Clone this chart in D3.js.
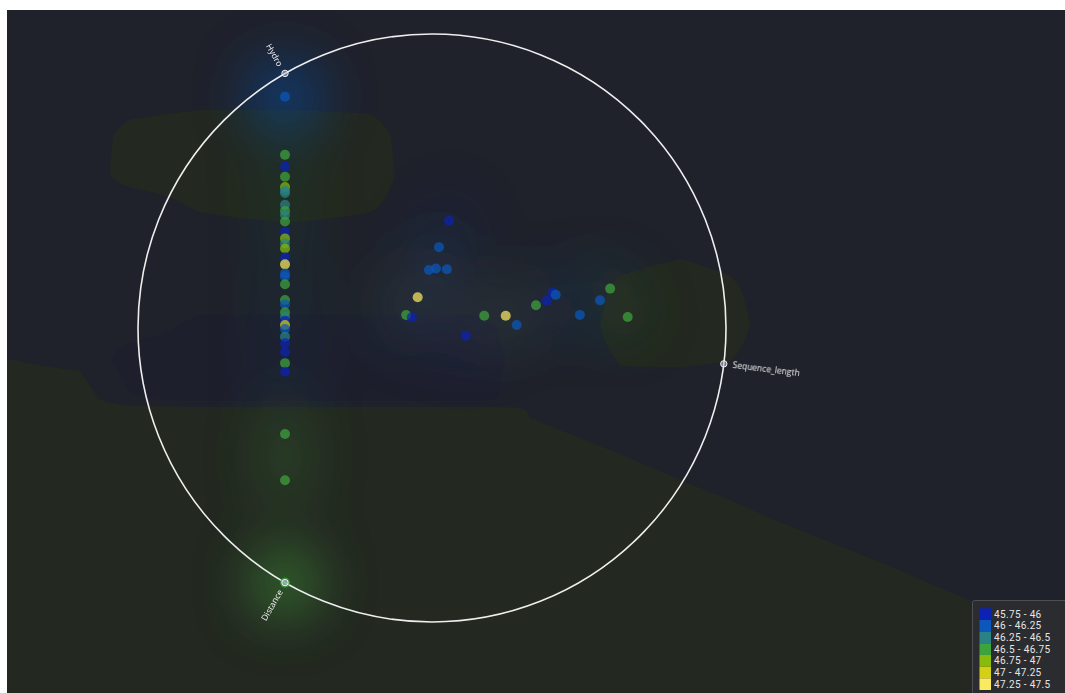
<!DOCTYPE html>
<html>
<head>
<meta charset="utf-8">
<script src="https://cdn.jsdelivr.net/npm/d3@7"></script>
<style>
  html, body { margin: 0; padding: 0; background: #ffffff; overflow: hidden; }
  svg { display: block; }
</style>
</head>
<body>
<svg id="chart" width="1065" height="693"></svg>
<script>
// RadViz anchors (feature names and their angle on the circle, degrees clockwise from +x)
const anchorNames = ["Hydro", "Sequence_length", "Distance"];
const anchorAngles = [240, 7, 120];

// Normalised feature values per sample
const hydro = [
  0.954, 0.840, 0.817, 0.797, 0.777, 0.770, 0.765, 0.742, 0.730, 0.722, 0.709, 0.689,
  0.676, 0.666, 0.656, 0.639, 0.625, 0.607, 0.601, 0.586, 0.555, 0.546, 0.531, 0.522,
  0.514, 0.506, 0.498, 0.483, 0.470, 0.453, 0.431, 0.414, 0.292, 0.201, 0.000,
  0.550, 0.508, 0.473, 0.469, 0.457, 0.430, 0.407, 0.397, 0.329, 0.308, 0.279, 0.308,
  0.299, 0.297, 0.307, 0.300, 0.237, 0.246, 0.259, 0.186
];
const seqLength = [
  0, 0, 0, 0, 0, 0, 0, 0, 0, 0, 0, 0,
  0, 0, 0, 0, 0, 0, 0, 0, 0, 0, 0, 0,
  0, 0, 0, 0, 0, 0, 0, 0, 0, 0, 0,
  0.374, 0.351, 0.328, 0.344, 0.369, 0.302, 0.276, 0.289, 0.454, 0.503, 0.528, 0.412,
  0.572, 0.596, 0.610, 0.617, 0.672, 0.718, 0.741, 0.781
];
const distance = [
  0.046, 0.160, 0.183, 0.203, 0.223, 0.230, 0.235, 0.258, 0.270, 0.278, 0.291, 0.311,
  0.324, 0.334, 0.344, 0.361, 0.375, 0.393, 0.399, 0.414, 0.445, 0.454, 0.469, 0.478,
  0.486, 0.494, 0.502, 0.517, 0.530, 0.547, 0.569, 0.586, 0.708, 0.799, 1.000,
  0.076, 0.141, 0.199, 0.187, 0.174, 0.267, 0.317, 0.314, 0.217, 0.189, 0.193, 0.280,
  0.129, 0.106, 0.083, 0.083, 0.091, 0.036, 0.000, 0.033
];
// Target value per sample
const scores = [
  46.12, 46.61, 45.88, 46.58, 46.86, 46.37, 46.33, 46.41, 46.64, 46.44, 46.57, 45.91,
  46.83, 46.36, 46.79, 45.94, 47.31, 46.08, 46.17, 46.66, 46.55, 46.14, 46.62, 46.29,
  45.97, 47.08, 46.21, 46.46, 45.86, 45.92, 46.69, 45.83, 46.60, 46.65, 46.72,
  45.90, 46.10, 46.15, 46.10, 46.20, 47.35, 46.60, 45.95, 46.55, 47.30, 46.10, 45.85,
  46.60, 45.90, 45.95, 46.05, 46.15, 46.20, 46.70, 46.65
];

// Colour classes
const bandBreaks = [45.75, 46, 46.25, 46.5, 46.75, 47, 47.25, 47.5];
const bandLabels = ["45.75 - 46", "46 - 46.25", "46.25 - 46.5", "46.5 - 46.75", "46.75 - 47", "47 - 47.25", "47.25 - 47.5"];
const bandColors = ["#0b22b4", "#0b57bb", "#2a8285", "#3fa33d", "#88bb0b", "#d4d015", "#fbe95f"];
// Muted versions of the class colours used for the backdrop
const bandTints = ["#1e1f2d", "#1e2330", "#1f222b", "#232820", "#25291f", "#282920", "#2a2a23"];

// Backdrop class map, sampled on a coarse (non-uniform) grid over the plot:
// level 0 -> class "45.75 - 46", level 1 -> class "46.25 - 46.5", level 2 -> class "46.5 - 46.75"
const backdropClass = [0, 2, 3];
const backdropX = [7, 80, 130, 200, 290, 370, 420, 480, 530, 580, 620, 680, 730, 770, 860, 960, 1065];
const backdropY = [10, 95, 135, 175, 205, 240, 290, 325, 360, 398, 410, 450, 520, 600, 693];
const backdropLevel = [
  [1, 1, 1, 1, 1, 1, 1, 1, 1, 1, 1, 1, 1, 1, 1, 1, 1],
  [1, 1, 1.1, 1.2, 1.2, 1.2, 1, 1, 1, 1, 1, 1, 1, 1, 1, 1, 1],
  [1, 1, 1.75, 2, 2, 1.85, 1, 1, 1, 1, 1, 1, 1, 1, 1, 1, 1],
  [1, 1, 1.85, 2, 2, 2, 1, 1, 1, 1, 1, 1, 1, 1, 1, 1, 1],
  [1, 1, 1, 1.63, 2, 1.63, 1, 1, 1, 1, 1, 1, 1, 1, 1, 1, 1],
  [1, 1, 1, 1, 1, 1, 1, 1, 1, 1, 1, 1.2, 1, 1, 1, 1, 1],
  [1, 1, 1, 1, 1, 1, 1, 1, 1, 1, 1.7, 2, 1.7, 1, 1, 1, 1],
  [1, 1, 1, 0.3, 0.3, 0.3, 0.3, 0.3, 1, 1, 2, 2, 2, 1, 1, 1, 1],
  [1.52, 1.3, 0, 0, 0, 0, 0, 0, 1, 1, 1.55, 1.6, 1.52, 1, 1, 1, 1],
  [2, 2, 0.6, 0, 0, 0, 0, 0, 1.40, 1.30, 1.22, 1.09, 0.99, 0.90, 0.90, 0.90, 0.90],
  [2, 2, 2, 2, 2, 2, 2, 2, 1.46, 1.36, 1.28, 1.15, 1.05, 0.96, 0.90, 0.90, 0.90],
  [2, 2, 2, 2, 2, 2, 2, 2, 1.66, 1.56, 1.48, 1.35, 1.25, 1.16, 0.98, 0.90, 0.90],
  [2, 2, 2, 2, 2, 2, 2, 2, 2.01, 1.91, 1.83, 1.70, 1.60, 1.51, 1.33, 1.12, 0.90],
  [2, 2, 2, 2, 2, 2, 2, 2, 2.41, 2.31, 2.23, 2.10, 2.00, 1.91, 1.73, 1.52, 1.30],
  [2, 2, 2, 2, 2, 2, 2, 2, 2.88, 2.77, 2.69, 2.57, 2.46, 2.38, 2.19, 1.98, 1.77]
];

const W = 1065, H = 693;
const plot = { x: 7, y: 10, w: 1058, h: 683 };
const center = { x: 432, y: 328 }, R = 294;

const svg = d3.select("#chart");
const defs = svg.append("defs");
defs.append("clipPath").attr("id", "plotClip")
  .append("rect").attr("x", plot.x).attr("y", plot.y).attr("width", plot.w).attr("height", plot.h);
defs.append("filter").attr("id", "glow").attr("x", "-300%").attr("y", "-300%").attr("width", "700%").attr("height", "700%")
  .append("feGaussianBlur").attr("stdDeviation", 28);

const xScale = d3.scaleLinear().domain([-1, 1]).range([center.x - R, center.x + R]);
const yScale = d3.scaleLinear().domain([-1, 1]).range([center.y - R, center.y + R]);
const color = d3.scaleThreshold().domain(bandBreaks.slice(1, -1)).range(bandColors);

const rad = anchorAngles.map(a => a * Math.PI / 180);
const anchors = anchorNames.map((name, i) => ({ name, angle: anchorAngles[i], ux: Math.cos(rad[i]), uy: Math.sin(rad[i]) }));

// RadViz projection: weighted mean of anchor positions
const samples = scores.map((v, i) => {
  const w = [hydro[i], seqLength[i], distance[i]];
  const s = d3.sum(w);
  const ux = d3.sum(w, (wi, k) => wi * anchors[k].ux) / s;
  const uy = d3.sum(w, (wi, k) => wi * anchors[k].uy) / s;
  return { value: v, px: xScale(ux), py: yScale(uy) };
});

// Backdrop base
svg.append("rect").attr("x", plot.x).attr("y", plot.y).attr("width", plot.w).attr("height", plot.h)
  .attr("fill", bandTints[backdropClass[1]]);

// Resample the class map bilinearly onto a fine grid, then band it with d3.contours
const cell = 3;
const nx = Math.ceil(plot.w / cell), ny = Math.ceil(plot.h / cell);
const fine = new Float64Array(nx * ny);
function locate(arr, v) {
  const k = Math.max(1, Math.min(arr.length - 1, d3.bisectRight(arr, v)));
  return [k - 1, (v - arr[k - 1]) / (arr[k] - arr[k - 1])];
}
for (let j = 0; j < ny; j++) {
  const [r, ty] = locate(backdropY, plot.y + (j + 0.5) * cell);
  for (let i = 0; i < nx; i++) {
    const [c, tx] = locate(backdropX, plot.x + (i + 0.5) * cell);
    const a = backdropLevel[r][c], b = backdropLevel[r][c + 1];
    const d = backdropLevel[r + 1][c], e = backdropLevel[r + 1][c + 1];
    fine[j * nx + i] = (a * (1 - tx) + b * tx) * (1 - ty) + (d * (1 - tx) + e * tx) * ty;
  }
}
const levelBands = d3.contours().size([nx, ny]).thresholds([-1, 0.5, 1.5])(fine);
const gp = d3.geoPath(d3.geoIdentity().scale(cell).translate([plot.x, plot.y]));
svg.append("g").attr("clip-path", "url(#plotClip)")
  .selectAll("path").data(levelBands).join("path")
  .attr("d", gp)
  .attr("fill", (d, i) => bandTints[backdropClass[i]]);

// Soft halo around samples, much weaker where samples crowd together
const halo = svg.append("g").attr("clip-path", "url(#plotClip)").attr("filter", "url(#glow)");
halo.selectAll("circle").data(samples).join("circle")
  .attr("cx", d => d.px).attr("cy", d => d.py)
  .attr("fill", d => color(d.value))
  .each(function (d) {
    const n = samples.filter(q => Math.hypot(q.px - d.px, q.py - d.py) < 50).length;
    d3.select(this)
      .attr("r", n === 1 ? 34 : 26)
      .attr("opacity", 0.58 / Math.pow(n, 1.3));
  });

// Unit circle
svg.append("circle").attr("cx", center.x).attr("cy", center.y).attr("r", R)
  .attr("fill", "none").attr("stroke", "#eeeeee").attr("stroke-width", 1.6);

// Samples
svg.append("g").selectAll("circle").data(samples).join("circle")
  .attr("cx", d => d.px).attr("cy", d => d.py).attr("r", 5)
  .attr("fill", d => color(d.value)).attr("fill-opacity", 0.72);

// Anchors and labels
const ag = svg.append("g");
ag.selectAll("circle").data(anchors).join("circle")
  .attr("cx", d => xScale(d.ux)).attr("cy", d => yScale(d.uy)).attr("r", 3.2)
  .attr("fill", "#b8b8e0").attr("fill-opacity", 0.55).attr("stroke", "#f0f0f0").attr("stroke-width", 1);
ag.selectAll("text").data(anchors).join("text")
  .attr("transform", d => {
    const x = center.x + (R + 9) * d.ux, y = center.y + (R + 9) * d.uy;
    const rot = d.ux >= 0 ? d.angle : d.angle - 180;
    return `translate(${x},${y}) rotate(${rot})`;
  })
  .attr("text-anchor", d => d.ux >= 0 ? "start" : "end")
  .attr("dy", "0.35em")
  .attr("font-family", "'Open Sans', 'Noto Sans', sans-serif").attr("font-size", 8.5)
  .attr("fill", "#f2f2f2")
  .text(d => d.name);

// Legend
const lg = svg.append("g");
lg.append("rect").attr("x", 972.5).attr("y", 600.5).attr("width", 100).attr("height", 100).attr("rx", 2)
  .attr("fill", "#2a2c30").attr("stroke", "#4c4e52");
const sh = 11.67;
lg.selectAll("rect.sw").data(bandColors).join("rect").attr("class", "sw")
  .attr("x", 979.5).attr("y", (d, i) => 608.3 + i * sh).attr("width", 11.5).attr("height", sh)
  .attr("fill", d => d);
lg.selectAll("text").data(bandLabels).join("text")
  .attr("x", 994).attr("y", (d, i) => 608.3 + i * sh + 9.5)
  .attr("font-family", "Roboto, sans-serif").attr("font-size", 10).attr("letter-spacing", 0.35)
  .attr("fill", "#e6e6e6")
  .text(d => d);
</script>
</body>
</html>
